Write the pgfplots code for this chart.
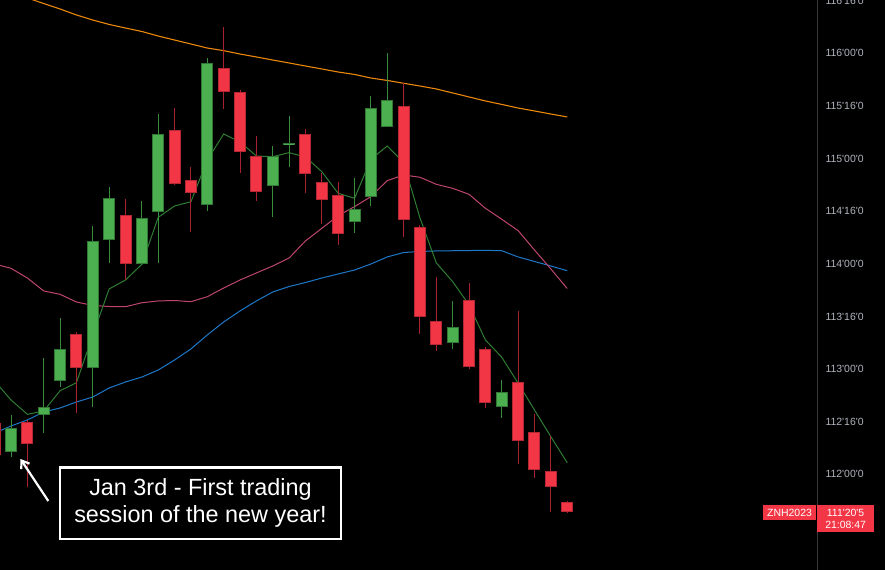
\documentclass[border=0pt]{standalone}
\usepackage{fontspec}
\setmainfont{Liberation Sans}
\usepackage{pgfplots}
\pgfplotsset{compat=1.18}
\usepackage{pgfplotstable}
\usetikzlibrary{arrows.meta}

\definecolor{candleG}{RGB}{76,175,80}
\definecolor{candleR}{RGB}{242,54,69}
\definecolor{edgeG}{RGB}{48,120,52}
\definecolor{edgeR}{RGB}{180,40,52}
\definecolor{wickG}{RGB}{56,140,60}
\definecolor{wickR}{RGB}{170,34,46}
\definecolor{maG}{RGB}{46,125,50}
\definecolor{maP}{RGB}{190,70,110}
\definecolor{maB}{RGB}{30,120,200}
\definecolor{maO}{RGB}{235,135,10}
\definecolor{axisgray}{RGB}{55,55,60}
\definecolor{ticklab}{RGB}{178,181,190}

% candles: index, open, high, low, close
\pgfplotstableread{
x o h l c
1 112.209 112.563 112.164 112.440
3 112.561 113.105 112.392 112.642
4 112.886 113.485 112.832 113.188
6 113.013 114.362 112.642 114.217
7 114.226 114.733 114.005 114.628
9 113.998 114.597 113.990 114.438
10 114.495 115.420 114.010 115.233
13 114.556 115.953 114.505 115.911
17 114.742 115.122 114.448 115.027
18 115.128 115.404 114.923 115.144
22 114.400 114.812 114.296 114.518
23 114.638 115.594 114.552 115.483
24 115.303 116.006 115.300 115.553
28 113.245 113.647 113.193 113.402
31 112.637 112.893 112.532 112.779
}\greentab

\pgfplotstableread{
x o h l c
0 112.487 112.535 112.117 112.183
2 112.497 112.516 111.879 112.285
5 113.330 113.355 112.580 113.013
8 114.464 114.613 113.846 113.998
11 115.271 115.477 114.752 114.758
12 114.796 114.917 114.299 114.670
14 115.858 116.253 115.468 115.635
15 115.635 115.651 114.866 115.059
16 115.027 115.214 114.600 114.685
19 115.233 115.278 114.676 114.853
20 114.780 114.866 114.375 114.606
21 114.654 114.780 114.179 114.280
25 115.499 115.715 114.258 114.416
26 114.347 114.369 113.330 113.492
27 113.457 113.875 113.174 113.226
29 113.653 113.818 113.003 113.022
30 113.191 113.212 112.630 112.680
32 112.874 113.552 112.098 112.319
33 112.402 112.570 111.968 112.038
34 112.028 112.364 111.642 111.882
35 111.737 111.746 111.632 111.641
}\redtab

% moving averages: g = short (green), p = pink, b = blue, o = orange
\pgfplotstableread{
x g p b o
0 112.886 113.998 112.392 116.620
1 112.706 113.957 112.459 116.573
2 112.570 113.865 112.516 116.525
3 112.601 113.742 112.592 116.473
4 112.794 113.710 112.630 116.421
5 112.870 113.637 112.687 116.364
6 113.324 113.604 112.734 116.316
7 113.761 113.594 112.820 116.274
8 113.846 113.592 112.877 116.240
9 113.995 113.630 112.924 116.207
10 114.442 113.647 112.991 116.164
11 114.549 113.651 113.086 116.126
12 114.590 113.640 113.191 116.088
13 114.986 113.687 113.324 116.050
14 115.233 113.770 113.447 116.025
15 115.157 113.846 113.552 115.993
16 115.024 113.913 113.647 115.965
17 115.018 113.979 113.732 115.936
18 115.056 114.055 113.784 115.908
19 115.015 114.217 113.822 115.879
20 114.875 114.337 113.865 115.851
21 114.670 114.457 113.903 115.822
22 114.622 114.543 113.941 115.799
23 114.993 114.638 113.998 115.765
24 115.119 114.790 114.065 115.742
25 114.961 114.844 114.107 115.715
26 114.435 114.822 114.117 115.689
27 114.008 114.755 114.122 115.661
28 113.830 114.717 114.124 115.623
29 113.609 114.660 114.126 115.585
30 113.276 114.527 114.128 115.547
31 113.112 114.423 114.124 115.514
32 112.865 114.315 114.065 115.480
33 112.611 114.131 114.022 115.452
34 112.357 113.951 113.979 115.423
35 112.110 113.765 113.934 115.395
}\matab

\newcommand{\q}{\textquotesingle}

\pgfplotsset{
  candle/.style 2 args={only marks, mark size=0pt, mark options={draw=none, fill=none},
    error bars/.cd, y dir=both, y explicit, error mark=none,
    error bar style={draw=#1, line width=#2}},
}

\begin{document}
\begin{tikzpicture}[x=1bp,y=1bp]
\useasboundingbox (0,0) rectangle (885,570);
\fill[black] (0,0) rectangle (885,570);
\begin{scope}
\clip (0,0) rectangle (885,570);
\begin{axis}[
  at={(0,0)}, anchor=south west,
  scale only axis, width=817bp, height=570bp,
  xmin=0.3276, xmax=50.27,
  ymin=111.0907, ymax=116.5064,
  axis x line=none,
  axis y line*=right,
  y axis line style={draw=axisgray, line width=1bp},
  major tick length=0pt,
  ytick={112,112.5,113,113.5,114,114.5,115,115.5,116,116.5},
  yticklabels={112\q00\q0,112\q16\q0,113\q00\q0,113\q16\q0,114\q00\q0,114\q16\q0,115\q00\q0,115\q16\q0,116\q00\q0,116\q16\q0},
  yticklabel style={font=\fontsize{10.5}{12}\selectfont, text=ticklab, anchor=west, xshift=5bp},
  clip=true,
]
% moving averages
\addplot[maO, line width=1.1bp] table[x=x,y=o] {\matab};
\addplot[maB, line width=1bp] table[x=x,y=b] {\matab};
\addplot[maP, line width=1bp] table[x=x,y=p] {\matab};
\addplot[maG, line width=1bp] table[x=x,y=g] {\matab};

% wicks
\addplot[candle={wickG}{1bp}]
  table[x=x, y expr={(\thisrow{h}+\thisrow{l})/2}, y error expr={(\thisrow{h}-\thisrow{l})/2}] {\greentab};
\addplot[candle={wickR}{1bp}]
  table[x=x, y expr={(\thisrow{h}+\thisrow{l})/2}, y error expr={(\thisrow{h}-\thisrow{l})/2}] {\redtab};

% bodies: outline then fill
\addplot[candle={edgeG}{12bp}]
  table[x=x, y expr={(\thisrow{o}+\thisrow{c})/2}, y error expr={abs(\thisrow{c}-\thisrow{o})/2}] {\greentab};
\addplot[candle={candleG}{10bp}]
  table[x=x, y expr={(\thisrow{o}+\thisrow{c})/2}, y error expr={max(abs(\thisrow{c}-\thisrow{o})/2-0.0095,0.0005)}] {\greentab};
\addplot[candle={edgeR}{12bp}]
  table[x=x, y expr={(\thisrow{o}+\thisrow{c})/2}, y error expr={abs(\thisrow{c}-\thisrow{o})/2}] {\redtab};
\addplot[candle={candleR}{10bp}]
  table[x=x, y expr={(\thisrow{o}+\thisrow{c})/2}, y error expr={max(abs(\thisrow{c}-\thisrow{o})/2-0.0095,0.0005)}] {\redtab};
\end{axis}

% annotation box and arrow
\fill[black] (60,31) rectangle (341,102.3);
\draw[white, line width=2.5] (60,31) rectangle (341,102.3);
\node[text=white, align=center, inner sep=0pt, font=\fontsize{23.5}{27}\selectfont] at (200.5,67) {Jan 3rd - First trading\\session of the new year!};
\draw[white, line width=2.2, -{Straight Barb[length=7,width=10]}] (48.3,69) -- (20.5,111);

% price labels
\fill[candleR] (763.3,50) rectangle (815.7,65);
\node[text=white, inner sep=0pt, font=\fontsize{10.5}{12}\selectfont] at (789.5,57.5) {ZNH2023};
\fill[candleR] (817.3,37.7) rectangle (874,65);
\node[text=white, align=center, inner sep=0pt, font=\fontsize{10.5}{12.5}\selectfont] at (845.6,51.3) {111\q20\q5\\21:08:47};
\end{scope}
\end{tikzpicture}
\end{document}
